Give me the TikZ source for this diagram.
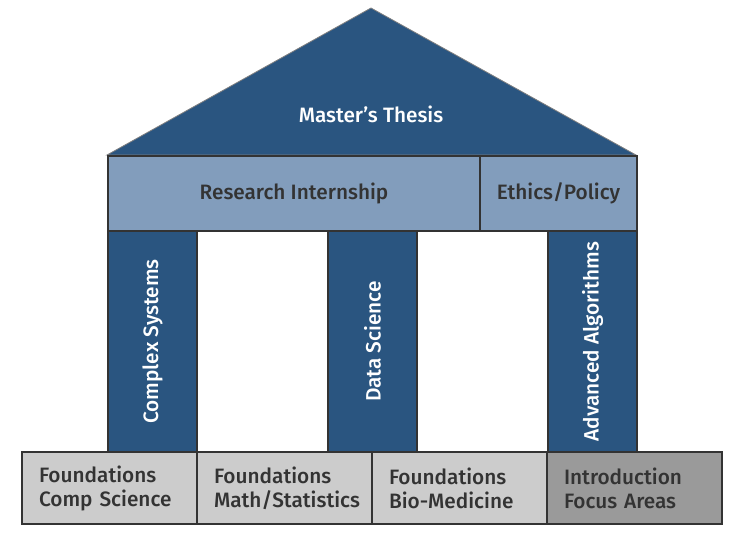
\documentclass[tikz,border=0pt]{standalone}
\usepackage{fontspec}
\setmainfont{Fira Sans}[UprightFont={* Medium}]
\usepackage{xcolor}
\usepackage{tikz}
\definecolor{thesisblue}{HTML}{2A5580}
\definecolor{barblue}{HTML}{829DBC}
\definecolor{baselight}{HTML}{CCCCCC}
\definecolor{basedark}{HTML}{9A9A9A}
\definecolor{edgegray}{HTML}{333333}
\tikzset{
	x=1pt, y=-1pt,
	every node/.style={
		font=\fontsize{20.8}{24}\selectfont,
		inner sep=0pt},
	roof/.style={
		fill=thesisblue,
		draw=gray,
		line width=0.8pt},
	bar/.style={
		draw=edgegray,
		line width=2pt,
		fill=barblue,
		text=edgegray,
		anchor=north west,
		minimum height=75pt},
	pillar/.style={
		draw=edgegray,
		line width=2pt,
		fill=thesisblue,
		text=white,
		anchor=north west,
		minimum width=89pt,
		minimum height=221pt},
	base/.style={
		draw=edgegray,
		line width=2pt,
		fill=baselight,
		text=edgegray,
		anchor=north west,
		minimum width=175pt,
		minimum height=72pt,
		text width=141pt,
		align=left},
	pillartext/.style={
		rotate=90,
		text=white}
}
\begin{document}
\begin{tikzpicture}
	\useasboundingbox (0,0) rectangle (739,535);
	\draw[roof] (107,155) -- (371,8) -- (636,155) -- cycle;
	\node[text=white] (thesis) at (371,114) {Master’s Thesis};
	\node[bar, minimum width=372pt] (intern) at (107,155) {Research Internship};
	\node[bar, minimum width=157pt] (ethics) at (479,155) {Ethics/Policy};
	\node[pillar] (complex) at (107,230) {};
	\node[pillar] (data) at (327,230) {};
	\node[pillar] (algo) at (547,230) {};
	\node[pillartext] at (complex.center) {Complex Systems};
	\node[pillartext] at (data.center) {Data Science};
	\node[pillartext] at (algo.center) {Advanced Algorithms};
	\node[base] (cs) at (21,451) {Foundations\\Comp Science};
	\node[base] (math) at (196,451) {Foundations\\Math/Statistics};
	\node[base] (bio) at (371,451) {Foundations\\Bio-Medicine};
	\node[base, fill=basedark] (intro) at (546,451) {Introduction\\Focus Areas};
\end{tikzpicture}
\end{document}
